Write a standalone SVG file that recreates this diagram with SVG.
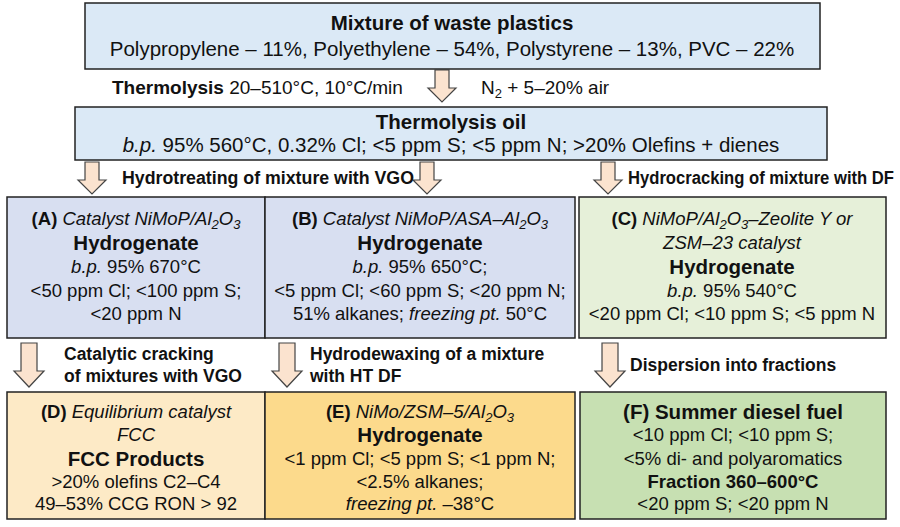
<svg xmlns="http://www.w3.org/2000/svg" width="900" height="527" viewBox="0 0 900 527">
<defs>
<style>
text{font-family:"Liberation Sans",Arial,sans-serif;font-size:18.5px;fill:#111;text-anchor:middle}
.b{font-weight:bold}
.i{font-style:italic}
.t{font-size:20.5px}
.l{text-anchor:start;font-weight:bold;font-size:17.5px}
.box{stroke:#222;stroke-width:1.5}
.arr{fill:#fbe3cf;stroke:#444;stroke-width:1.2}
</style>
<path id="ar" class="arr" d="M-7,0 H7 V18 H14 L0,32 L-14,18 H-7 Z"/>
<path id="ar2" class="arr" d="M-8,0 H8 V28 H15 L0,44 L-15,28 H-8 Z"/>
</defs>
<g id="connectors">
<use href="#ar" x="442" y="70"/>
<use href="#ar" x="92" y="162"/>
<use href="#ar" x="427" y="162"/>
<use href="#ar" x="608" y="162"/>
<use href="#ar2" x="29" y="343"/>
<use href="#ar2" x="287" y="343"/>
<use href="#ar2" x="610" y="343"/>
<text class="l" x="112" y="94" style="font-size:19px">Thermolysis <tspan font-weight="normal">20–510°C, 10°C/min</tspan></text>
<text x="481" y="94" style="text-anchor:start;font-size:19px">N<tspan font-size="13" dy="4">2</tspan><tspan dy="-4"> + 5–20% air</tspan></text>
<text class="l" x="122" y="184" textLength="292" lengthAdjust="spacingAndGlyphs">Hydrotreating of mixture with VGO</text>
<text class="l" x="628" y="184" textLength="266" lengthAdjust="spacingAndGlyphs">Hydrocracking of mixture with DF</text>
<text class="l" x="64" y="360">Catalytic cracking</text>
<text class="l" x="64" y="382">of mixtures with VGO</text>
<text class="l" x="310" y="360">Hydrodewaxing of a mixture</text>
<text class="l" x="310" y="382">with HT DF</text>
<text class="l" x="630" y="371">Dispersion into fractions</text>
</g>
<g id="mixture">
<rect class="box" x="85" y="3" width="735" height="66" fill="#dbe9f6"/>
<text class="b t" x="452" y="30">Mixture of waste plastics</text>
<text class="t" x="452" y="56">Polypropylene – 11%, Polyethylene – 54%, Polystyrene – 13%, PVC – 22%</text>
</g>
<g id="oil">
<rect class="box" x="75" y="107" width="752" height="53" fill="#dbe9f6"/>
<text class="b t" x="451" y="129">Thermolysis oil</text>
<text class="t" x="451" y="152"><tspan class="i">b.p.</tspan> 95% 560°C, 0.32% Cl; &lt;5 ppm S; &lt;5 ppm N; &gt;20% Olefins + dienes</text>
</g>
<g id="A">
<rect class="box" x="7" y="197" width="258" height="141" fill="#d8dff1"/>
<text x="136" y="225"><tspan class="b">(A)</tspan> <tspan class="i">Catalyst NiMoP/Al<tspan font-size="13" dy="4">2</tspan><tspan dy="-4">O</tspan><tspan font-size="13" dy="4">3</tspan></tspan></text>
<text class="b t" x="136" y="250">Hydrogenate</text>
<text x="136" y="273"><tspan class="i">b.p.</tspan> 95% 670°C</text>
<text x="136" y="297">&lt;50 ppm Cl; &lt;100 ppm S;</text>
<text x="136" y="320">&lt;20 ppm N</text>
</g>
<g id="B">
<rect class="box" x="265" y="197" width="310" height="141" fill="#d8dff1"/>
<text x="420" y="225"><tspan class="b">(B)</tspan> <tspan class="i">Catalyst NiMoP/ASA–Al<tspan font-size="13" dy="4">2</tspan><tspan dy="-4">O</tspan><tspan font-size="13" dy="4">3</tspan></tspan></text>
<text class="b t" x="420" y="250">Hydrogenate</text>
<text x="420" y="273"><tspan class="i">b.p.</tspan> 95% 650°C;</text>
<text x="420" y="297">&lt;5 ppm Cl; &lt;60 ppm S; &lt;20 ppm N;</text>
<text x="420" y="320">51% alkanes; <tspan class="i">freezing pt.</tspan> 50°C</text>
</g>
<g id="C">
<rect class="box" x="579" y="197" width="307" height="141" fill="#e6f0d9"/>
<text x="732" y="225"><tspan class="b">(C)</tspan> <tspan class="i">NiMoP/Al<tspan font-size="13" dy="4">2</tspan><tspan dy="-4">O</tspan><tspan font-size="13" dy="4">3</tspan><tspan dy="-4">–Zeolite Y or</tspan></tspan></text>
<text class="i" x="732" y="249">ZSM–23 catalyst</text>
<text class="b t" x="732" y="274">Hydrogenate</text>
<text x="732" y="297"><tspan class="i">b.p.</tspan> 95%   540°C</text>
<text x="732" y="320">&lt;20 ppm Cl; &lt;10 ppm S; &lt;5 ppm N</text>
</g>
<g id="D">
<rect class="box" x="7" y="392" width="258" height="127" fill="#fdeac6"/>
<text x="136" y="418"><tspan class="b">(D)</tspan> <tspan class="i">Equilibrium catalyst</tspan></text>
<text class="i" x="136" y="441">FCC</text>
<text class="b t" x="136" y="466">FCC Products</text>
<text x="136" y="488">&gt;20% olefins C2–C4</text>
<text x="136" y="510">49–53% CCG RON &gt; 92</text>
</g>
<g id="E">
<rect class="box" x="265" y="392" width="310" height="127" fill="#fcda8c"/>
<text x="420" y="418"><tspan class="b">(E)</tspan> <tspan class="i">NiMo/ZSM–5/Al<tspan font-size="13" dy="4">2</tspan><tspan dy="-4">O</tspan><tspan font-size="13" dy="4">3</tspan></tspan></text>
<text class="b t" x="420" y="442">Hydrogenate</text>
<text x="420" y="465">&lt;1 ppm Cl; &lt;5 ppm S; &lt;1 ppm N;</text>
<text x="420" y="488">&lt;2.5% alkanes;</text>
<text x="420" y="510"><tspan class="i">freezing pt.</tspan> –38°C</text>
</g>
<g id="F">
<rect class="box" x="580" y="392" width="306" height="127" fill="#c7e0b2"/>
<text class="b t" x="733" y="419">(F) Summer diesel fuel</text>
<text x="733" y="441">&lt;10 ppm Cl; &lt;10 ppm S;</text>
<text x="733" y="465">&lt;5% di- and polyaromatics</text>
<text class="b" x="733" y="488">Fraction 360–600°C</text>
<text x="733" y="510">&lt;20 ppm S; &lt;20 ppm N</text>
</g>
</svg>
